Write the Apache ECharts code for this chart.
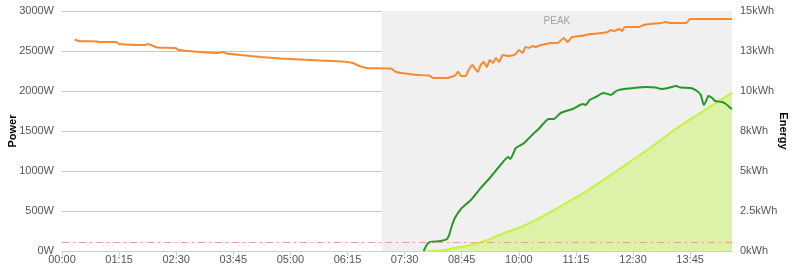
<!DOCTYPE html>
<html>
<head>
<meta charset="utf-8">
<script src="https://cdn.jsdelivr.net/npm/echarts@6/dist/echarts.min.js"></script>
<style>html,body{margin:0;padding:0;background:#fff}#c{width:800px;height:269px}</style>
</head>
<body>
<div id="c"></div>
<script>
const xTickLabels = ['00:00','01:15','02:30','03:45','05:00','06:15','07:30','08:45','10:00','11:15','12:30','13:45'];
const xStart = '00:00', xEnd = '14:40';
const powerTicks = [0,500,1000,1500,2000,2500,3000];
const energyTickValues = [0,2.5,5,7.5,10,12.5,15];
const energyTickLabels = ['0kWh','2.5kWh','5kWh','8kWh','10kWh','13kWh','15kWh'];
const peakStart = '07:00', peakLabel = 'PEAK';
const thresholdW = 110;

const consTimes = ['00:17','00:22','00:46','00:49','01:11','01:15','01:49','01:53','01:57','02:05','02:29','02:33','03:02','03:24','03:31','03:36','03:54','04:21','04:47','05:13','05:39','06:08','06:22','06:29','06:40','07:12','07:19','07:31','07:48','08:02','08:08','08:24','08:33','08:37','08:40','08:44','08:50','08:54','08:59','09:03','09:06','09:10','09:14','09:18','09:22','09:26','09:30','09:34','09:39','09:47','09:56','10:00','10:05','10:09','10:13','10:18','10:22','10:29','10:36','10:42','10:51','10:59','11:04','11:10','11:22','11:35','11:48','11:57','12:01','12:05','12:12','12:16','12:19','12:37','12:44','12:54','13:07','13:13','13:19','13:40','13:45','14:40'];
const consW = [2644,2625,2619,2612,2612,2588,2575,2588,2575,2544,2538,2512,2488,2475,2488,2469,2450,2425,2406,2394,2381,2369,2350,2319,2288,2281,2238,2219,2200,2194,2162,2162,2181,2200,2241,2188,2188,2262,2325,2275,2238,2325,2362,2300,2388,2350,2412,2362,2450,2438,2462,2512,2475,2550,2538,2562,2550,2575,2588,2600,2600,2662,2612,2675,2688,2712,2725,2738,2762,2750,2775,2750,2800,2800,2825,2838,2850,2862,2850,2850,2900,2900];

const genTimes = ['07:55','08:00','08:04','08:17','08:25','08:28','08:32','08:36','08:44','08:57','09:10','09:23','09:36','09:46','09:49','09:53','09:56','10:07','10:20','10:26','10:33','10:39','10:46','10:55','11:11','11:24','11:28','11:33','11:41','11:51','11:57','12:01','12:08','12:14','12:31','12:47','13:00','13:07','13:16','13:27','13:32','13:46','13:54','13:59','14:03','14:06','14:09','14:14','14:18','14:27','14:32','14:38','14:40'];
const genW = [0,88,112,125,144,188,312,412,525,638,788,925,1075,1175,1150,1225,1288,1350,1475,1525,1600,1650,1650,1725,1775,1838,1825,1888,1925,1975,1962,1950,2000,2019,2038,2050,2044,2025,2038,2062,2044,2038,2000,1950,1825,1875,1938,1912,1875,1862,1838,1788,1775];

const energyTimes = ['08:00','08:17','08:34','08:57','09:19','09:40','10:03','10:25','10:46','11:31','12:10','12:54','13:24','13:59','14:40'];
const energyKWh = [0,0.03,0.17,0.38,0.69,1.12,1.5,2.0,2.56,3.81,5.06,6.5,7.56,8.65,9.88];

const toMin = s => { const p = s.split(':'); return (+p[0]) * 60 + (+p[1]); };
const fmtMin = v => { const h = Math.floor(v / 60), m = Math.round(v % 60); return String(h).padStart(2,'0') + ':' + String(m).padStart(2,'0'); };
const pair = (t, v) => t.map((s, i) => [toMin(s), v[i]]);

const FONT = 'Liberation Sans';
const chart = echarts.init(document.getElementById('c'), null, {renderer: 'canvas'});
chart.setOption({
  animation: false,
  backgroundColor: '#ffffff',
  grid: {left: 62, right: 68, top: 11, bottom: 18, containLabel: false, outerBoundsMode: 'none'},
  xAxis: {
    type: 'value', min: toMin(xStart), max: toMin(xEnd),
    splitLine: {show: false},
    axisLine: {show: true, lineStyle: {color: '#c0d0e0', width: 1}},
    axisTick: {show: true, length: 5, lineStyle: {color: '#c0d0e0'}, customValues: xTickLabels.map(toMin)},
    axisLabel: {customValues: xTickLabels.map(toMin), formatter: v => fmtMin(v), color: '#555', fontFamily: FONT, fontSize: 11, margin: 3}
  },
  yAxis: [{
    type: 'value', min: powerTicks[0], max: powerTicks[powerTicks.length-1], interval: powerTicks[1]-powerTicks[0],
    name: 'Power', nameLocation: 'middle', nameGap: 44, nameMoveOverlap: false,
    nameTextStyle: {fontFamily: FONT, fontSize: 11, fontWeight: 'bold', color: '#000'},
    axisLine: {show: false}, axisTick: {show: false},
    axisLabel: {formatter: v => v + 'W', color: '#555', fontFamily: FONT, fontSize: 11, margin: 8},
    splitLine: {lineStyle: {color: '#c8c8c8', width: 1}}
  }, {
    type: 'value', min: energyTickValues[0], max: energyTickValues[energyTickValues.length-1], interval: energyTickValues[1]-energyTickValues[0],
    position: 'right',
    name: 'Energy', nameLocation: 'middle', nameGap: 46, nameRotate: -90, nameMoveOverlap: false,
    nameTextStyle: {fontFamily: FONT, fontSize: 11, fontWeight: 'bold', color: '#000'},
    axisLine: {show: false}, axisTick: {show: false},
    axisLabel: {formatter: v => { const i = energyTickValues.indexOf(v); return i >= 0 ? energyTickLabels[i] : ''; }, color: '#555', fontFamily: FONT, fontSize: 11, margin: 8},
    splitLine: {show: false}
  }],
  series: [{
    type: 'line', yAxisIndex: 0, data: [], silent: true, z: 1,
    markArea: {silent: true, itemStyle: {color: '#f0f0f0'},
      label: {show: true, position: 'insideTop', distance: 5, formatter: peakLabel, color: '#a0a0a0', fontFamily: FONT, fontSize: 10},
      data: [[{xAxis: toMin(peakStart), yAxis: powerTicks[0]}, {xAxis: toMin(xEnd), yAxis: powerTicks[powerTicks.length-1]}]]},
    markLine: {silent: true, symbol: 'none', label: {show: false},
      lineStyle: {color: '#f09a9a', width: 1, type: [7, 4, 2, 4]},
      data: [{yAxis: thresholdW}]}
  }, {
    name: 'Energy', type: 'line', yAxisIndex: 1, z: 2,
    data: pair(energyTimes, energyKWh), smooth: 0.4, showSymbol: false,
    lineStyle: {color: '#c4f53a', width: 2},
    areaStyle: {color: 'rgba(190,245,70,0.6)'}
  }, {
    name: 'Generation', type: 'line', yAxisIndex: 0, z: 3,
    data: pair(genTimes, genW), smooth: 0.2, showSymbol: false,
    lineStyle: {color: '#239a23', width: 2}
  }, {
    name: 'Consumption', type: 'line', yAxisIndex: 0, z: 4,
    data: pair(consTimes, consW), smooth: 0.2, showSymbol: false,
    lineStyle: {color: '#f7892e', width: 2}
  }]
});
</script>
</body>
</html>
